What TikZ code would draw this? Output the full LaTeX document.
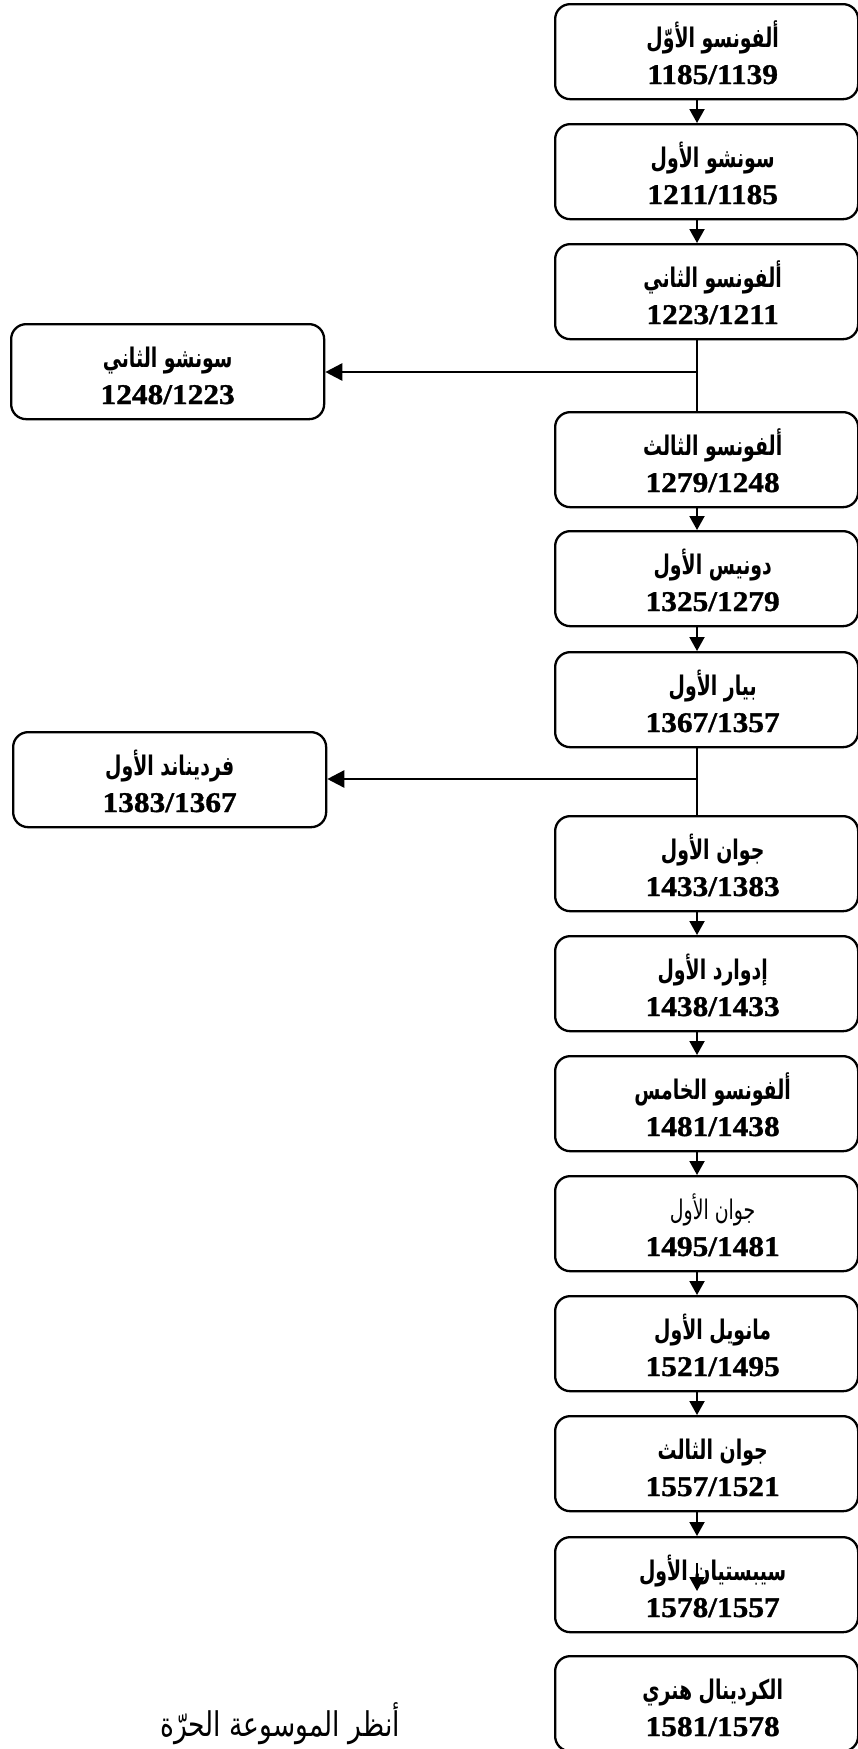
\documentclass[tikz,border=0pt]{standalone}
\usepackage{fontspec}
\setmainfont{Liberation Serif}
\newfontfamily\arb[Script=Arabic,FakeStretch=0.7]{DejaVu Sans}
\newfontfamily\arbf[Script=Arabic,FakeStretch=0.78]{DejaVu Sans}
\newfontfamily\numf[FakeStretch=1.1,BoldFeatures={FakeBold=1.2}]{Liberation Serif}
\TeXXeTstate=1
\usetikzlibrary{arrows.meta,calc}
\begin{document}
\begin{tikzpicture}[x=1pt,y=-1pt,
  box/.style={draw, line width=2.3pt, rounded corners=15pt, minimum width=303pt, minimum height=95pt, inner sep=0pt, anchor=north west},
  lbox/.style={box, minimum width=313pt},
  arlab/.style={anchor=base, inner sep=0pt, font=\arb\bfseries\fontsize{27}{30}\selectfont},
  arlabr/.style={anchor=base, inner sep=0pt, font=\arb\fontsize{27}{30}\selectfont},
  numlab/.style={anchor=base, inner sep=0pt, font=\numf\bfseries\fontsize{28.5}{31}\selectfont},
  arr/.style={line width=2pt, -{Triangle[length=14pt,width=15pt]}},
  conn/.style={line width=1.6pt},
  harr/.style={line width=2.6pt, -{Triangle[length=17pt,width=17pt]}},
  foot/.style={anchor=base, inner sep=0pt, font=\arbf\fontsize{34}{37}\selectfont}
]
\useasboundingbox (0,0) rectangle (858,1749);
\coordinate (ax) at (697,0);
% right column boxes
\node[box] (b1) at (554,3) {};
\node[box] (b2) at (554,123) {};
\node[box] (b3) at (554,243) {};
\node[box] (b4) at (554,411) {};
\node[box] (b5) at (554,530) {};
\node[box] (b6) at (554,651) {};
\node[box] (b7) at (554,815) {};
\node[box] (b8) at (554,935) {};
\node[box] (b9) at (554,1055) {};
\node[box] (b10) at (554,1175) {};
\node[box] (b11) at (554,1295) {};
\node[box] (b12) at (554,1415) {};
\node[box] (b13) at (554,1536) {};
\node[box] (b14) at (554,1655) {};
% left boxes
\node[lbox] (s2) at (10,323) {};
\node[lbox] (f1) at (12,731) {};
% texts
\node[arlab] (t1a) at ($(b1.north)+(6,44)$) {\beginR ألفونسو الأوّل\endR};
\node[numlab] (t1n) at ($(b1.north)+(6,81)$) {1185/1139};
\node[arlab] (t2a) at ($(b2.north)+(6,44)$) {\beginR سونشو الأول\endR};
\node[numlab] (t2n) at ($(b2.north)+(6,81)$) {1211/1185};
\node[arlab] (t3a) at ($(b3.north)+(6,44)$) {\beginR ألفونسو الثاني\endR};
\node[numlab] (t3n) at ($(b3.north)+(6,81)$) {1223/1211};
\node[arlab] (t4a) at ($(b4.north)+(6,44)$) {\beginR ألفونسو الثالث\endR};
\node[numlab] (t4n) at ($(b4.north)+(6,81)$) {1279/1248};
\node[arlab] (t5a) at ($(b5.north)+(6,44)$) {\beginR دونيس الأول\endR};
\node[numlab] (t5n) at ($(b5.north)+(6,81)$) {1325/1279};
\node[arlab] (t6a) at ($(b6.north)+(6,44)$) {\beginR بيار الأول\endR};
\node[numlab] (t6n) at ($(b6.north)+(6,81)$) {1367/1357};
\node[arlab] (t7a) at ($(b7.north)+(6,44)$) {\beginR جوان الأول\endR};
\node[numlab] (t7n) at ($(b7.north)+(6,81)$) {1433/1383};
\node[arlab] (t8a) at ($(b8.north)+(6,44)$) {\beginR إدوارد الأول\endR};
\node[numlab] (t8n) at ($(b8.north)+(6,81)$) {1438/1433};
\node[arlab] (t9a) at ($(b9.north)+(6,44)$) {\beginR ألفونسو الخامس\endR};
\node[numlab] (t9n) at ($(b9.north)+(6,81)$) {1481/1438};
\node[arlabr] (t10a) at ($(b10.north)+(6,44)$) {\beginR جوان الأول\endR};
\node[numlab] (t10n) at ($(b10.north)+(6,81)$) {1495/1481};
\node[arlab] (t11a) at ($(b11.north)+(6,44)$) {\beginR مانويل الأول\endR};
\node[numlab] (t11n) at ($(b11.north)+(6,81)$) {1521/1495};
\node[arlab] (t12a) at ($(b12.north)+(6,44)$) {\beginR جوان الثالث\endR};
\node[numlab] (t12n) at ($(b12.north)+(6,81)$) {1557/1521};
\node[arlab] (t13a) at ($(b13.north)+(6,44)$) {\beginR سيبستيان الأول\endR};
\node[numlab] (t13n) at ($(b13.north)+(6,81)$) {1578/1557};
\node[arlab] (t14a) at ($(b14.north)+(6,44)$) {\beginR الكردينال هنري\endR};
\node[numlab] (t14n) at ($(b14.north)+(6,81)$) {1581/1578};
\node[arlab] (s2a) at ($(s2.north)+(0,44)$) {\beginR سونشو الثاني\endR};
\node[numlab] (s2n) at ($(s2.north)+(0,81)$) {1248/1223};
\node[arlab] (f1a) at ($(f1.north)+(0,44)$) {\beginR فرديناند الأول\endR};
\node[numlab] (f1n) at ($(f1.north)+(0,81)$) {1383/1367};
\node[foot] (ft) at (280,1736) {\beginR أنظر الموسوعة الحرّة\endR};
% connectors
\draw[arr] (b1.south -| ax) -- (b2.north -| ax);
\draw[arr] (b2.south -| ax) -- (b3.north -| ax);
\draw[conn] (b3.south -| ax) -- (b4.north -| ax);
\coordinate (j1) at (697,372);
\draw[harr] (j1) -- (j1 -| s2.east);
\draw[arr] (b4.south -| ax) -- (b5.north -| ax);
\draw[arr] (b5.south -| ax) -- (b6.north -| ax);
\draw[conn] (b6.south -| ax) -- (b7.north -| ax);
\coordinate (j2) at (697,779);
\draw[harr] (j2) -- (j2 -| f1.east);
\draw[arr] (b7.south -| ax) -- (b8.north -| ax);
\draw[arr] (b8.south -| ax) -- (b9.north -| ax);
\draw[arr] (b9.south -| ax) -- (b10.north -| ax);
\draw[arr] (b10.south -| ax) -- (b11.north -| ax);
\draw[arr] (b11.south -| ax) -- (b12.north -| ax);
\draw[arr] (b12.south -| ax) -- (b13.north -| ax);
\coordinate (st1) at (697,1563);
\coordinate (st2) at (697,1591);
\draw[arr] (st1) -- (st2);
\end{tikzpicture}
\end{document}
